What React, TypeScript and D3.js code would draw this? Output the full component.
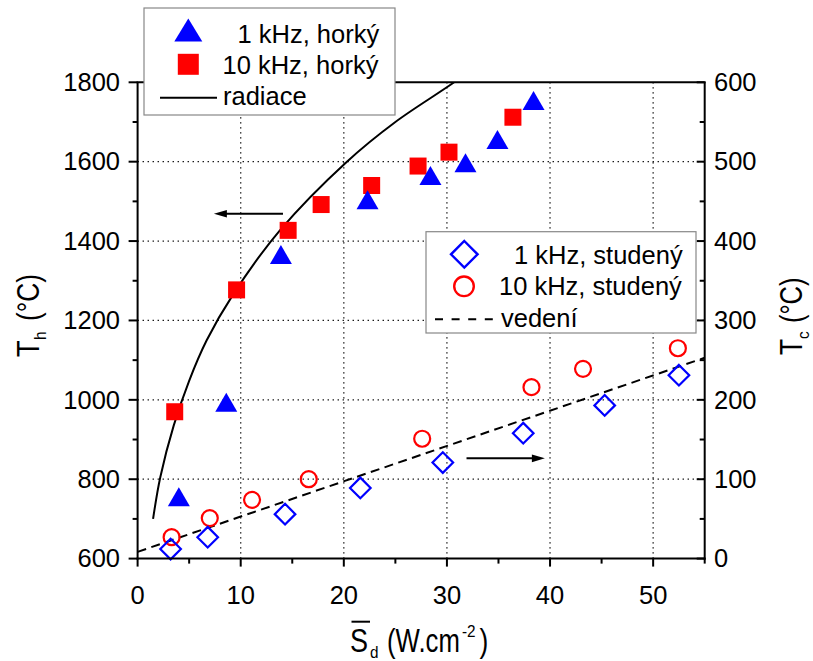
import React from "react";
import * as d3 from "d3";

// ---------- data ----------
const hot1kX = [4.0, 8.6, 13.9, 22.3, 28.4, 31.8, 34.9, 38.4];
const hot1kY = [756, 994, 1366, 1504, 1565, 1597, 1656, 1754];
const hot10kX = [3.6, 9.6, 14.6, 17.8, 22.7, 27.2, 30.2, 36.4];
const hot10kY = [970, 1277, 1427, 1492, 1540, 1589, 1624, 1712];
const cold1kX = [3.2, 6.8, 14.3, 21.6, 29.6, 37.4, 45.3, 52.5];
const cold1kY = [12, 27, 56, 89, 121, 158, 193, 231];
const cold10kX = [3.3, 7.0, 11.1, 16.6, 27.6, 38.2, 43.2, 52.4];
const cold10kY = [27, 51, 74, 100, 151, 216, 239, 265];
// radiation model curve
const radX = [1.5, 2.2, 3.5, 5, 6.7, 9.3, 13.8, 20.3, 25, 30.7, 33];
const radY = [700, 805, 935, 1048, 1150, 1267, 1427, 1600, 1700, 1800, 1845];
// conduction line (right axis)
const condX = [0, 55];
const condY = [8.5, 253];
// arrows
const arrowLeft = { x0: 14.1, x1: 7.4, y: 1469 };
const arrowRight = { x0: 31.9, x1: 39.5, y: 126.3 };

const xTicks = [0, 10, 20, 30, 40, 50];
const xMinor = [5, 15, 25, 35, 45, 55];
const yLTicks = [600, 800, 1000, 1200, 1400, 1600, 1800];
const yLMinor = [700, 900, 1100, 1300, 1500, 1700];
const yRTicks = [0, 100, 200, 300, 400, 500, 600];
const yRMinor = [50, 150, 250, 350, 450, 550];

const FONT = '"Liberation Sans", Arial, Helvetica, sans-serif';
const BLUE = "#0000ff";
const RED = "#ff0000";

const x = d3.scaleLinear().domain([0, 55]).range([137.6, 704.7]);
const yL = d3.scaleLinear().domain([600, 1800]).range([558.6, 82.3]);
const yR = d3.scaleLinear().domain([0, 600]).range([558.6, 82.3]);

const tri = (w: number, h: number) => `M0,${-h / 2}L${w / 2},${h / 2}L${-w / 2},${h / 2}Z`;
const dia = (r: number) => `M0,${-r}L${r},0L0,${r}L${-r},0Z`;

const Piece = ({ x, y, size, sx = 1, children, anchor = "start" }: any) => (
  <text
    transform={`translate(${x},${y}) scale(${sx},1)`}
    fontSize={size}
    fontFamily={FONT}
    textAnchor={anchor}
    fill="#000"
  >
    {children}
  </text>
);

const Arrow = ({ x0, x1, y }: any) => {
  const dir = x1 > x0 ? 1 : -1;
  const hl = 13;
  return (
    <g>
      <line x1={x0} x2={x1 - dir * hl + dir * 1} y1={y} y2={y} stroke="#000" strokeWidth={2} />
      <path d={`M${x1},${y}L${x1 - dir * hl},${y - 3.8}L${x1 - dir * hl},${y + 3.8}Z`} fill="#000" />
    </g>
  );
};

export default function App() {
  const [px0, px1] = x.range();
  const py0 = yL.range()[0];
  const py1 = yL.range()[1];

  const radPts = radX.map((v, i) => [x(v), yL(radY[i])] as [number, number]);
  const radPath = d3.line().curve(d3.curveCatmullRom.alpha(0.5))(radPts) || "";
  const condPath =
    d3.line()(condX.map((v, i) => [x(v), yR(condY[i])] as [number, number])) || "";

  return (
    <svg
      width={813}
      height={661}
      style={{ position: "absolute", left: 0, top: 0, background: "#fff" }}
      fontFamily={FONT}
    >
      <defs>
        <clipPath id="plotclip">
          <rect x={px0} y={py1} width={px1 - px0} height={py0 - py1} />
        </clipPath>
      </defs>
      <rect x={0} y={0} width={813} height={661} fill="#fff" />

      {/* grid */}
      <g stroke="#000" strokeWidth={1.3} strokeDasharray="1.3,3.7">
        {xTicks.filter((t) => t > 0).map((t) => (
          <line key={"gx" + t} x1={x(t)} x2={x(t)} y1={py0} y2={py1} />
        ))}
        {yLTicks.filter((t) => t > 600 && t < 1800).map((t) => (
          <line key={"gy" + t} x1={px0} x2={px1} y1={yL(t)} y2={yL(t)} />
        ))}
      </g>

      {/* curves */}
      <g clipPath="url(#plotclip)">
        <path d={radPath} fill="none" stroke="#000" strokeWidth={2} />
        <path d={condPath} fill="none" stroke="#000" strokeWidth={2} strokeDasharray="9,5.5" />
      </g>

      {/* markers */}
      {cold10kX.map((v, i) => (
        <circle key={"c10" + i} cx={x(v)} cy={yR(cold10kY[i])} r={8} fill="none" stroke={RED} strokeWidth={2.2} />
      ))}
      {cold1kX.map((v, i) => (
        <path key={"c1" + i} d={dia(10.3)} transform={`translate(${x(v)},${yR(cold1kY[i])})`} fill="none" stroke={BLUE} strokeWidth={2.2} />
      ))}
      {hot10kX.map((v, i) => (
        <rect key={"h10" + i} x={x(v) - 8.5} y={yL(hot10kY[i]) - 8.5} width={17} height={17} fill={RED} />
      ))}
      {hot1kX.map((v, i) => (
        <path key={"h1" + i} d={tri(22, 19)} transform={`translate(${x(v)},${yL(hot1kY[i])})`} fill={BLUE} />
      ))}

      {/* arrows */}
      <Arrow x0={x(arrowLeft.x0)} x1={x(arrowLeft.x1)} y={yL(arrowLeft.y)} />
      <Arrow x0={x(arrowRight.x0)} x1={x(arrowRight.x1)} y={yR(arrowRight.y)} />

      {/* axes frame */}
      <g stroke="#000" strokeWidth={2} fill="none">
        <line x1={px0} x2={px0} y1={py1} y2={py0 + 1} />
        <line x1={px1} x2={px1} y1={py1} y2={py0 + 1} />
        <line x1={px0 - 1} x2={px1 + 1} y1={py0} y2={py0} />
        <line x1={px0 - 1} x2={px1 + 1} y1={py1} y2={py1} />
        {xTicks.map((t) => (
          <line key={"xt" + t} x1={x(t)} x2={x(t)} y1={py0} y2={py0 + 8} />
        ))}
        {xMinor.map((t) => (
          <line key={"xm" + t} x1={x(t)} x2={x(t)} y1={py0} y2={py0 + 5} />
        ))}
        {yLTicks.map((t) => (
          <line key={"yt" + t} x1={px0 - 9} x2={px0} y1={yL(t)} y2={yL(t)} />
        ))}
        {yLMinor.map((t) => (
          <line key={"ym" + t} x1={px0 - 5} x2={px0} y1={yL(t)} y2={yL(t)} />
        ))}
        {yRTicks.map((t) => (
          <line key={"rt" + t} x1={px1 - 8} x2={px1} y1={yR(t)} y2={yR(t)} />
        ))}
        {yRMinor.map((t) => (
          <line key={"rm" + t} x1={px1 - 5} x2={px1} y1={yR(t)} y2={yR(t)} />
        ))}
      </g>

      {/* tick labels */}
      <g fontSize={25.5} fill="#000">
        {xTicks.map((t) => (
          <text key={"xl" + t} x={x(t)} y={603.5} textAnchor="middle">
            {t}
          </text>
        ))}
        {yLTicks.map((t) => (
          <text key={"yl" + t} x={120} y={yL(t) + 8.8} textAnchor="end">
            {t}
          </text>
        ))}
        {yRTicks.map((t) => (
          <text key={"rl" + t} x={714} y={yR(t) + 8.8} textAnchor="start">
            {t}
          </text>
        ))}
      </g>

      {/* axis titles */}
      <g transform="translate(39,357) rotate(-90)">
        <Piece x={0} y={0} size={32} sx={0.85}>T</Piece>
        <Piece x={17} y={7} size={17} sx={0.9}>h</Piece>
        <Piece x={36} y={0} size={32} sx={0.82}>(°C)</Piece>
      </g>
      <g transform="translate(802,355) rotate(-90)">
        <Piece x={0} y={0} size={31} sx={0.85}>T</Piece>
        <Piece x={16} y={7} size={17} sx={0.9}>c</Piece>
        <Piece x={32} y={0} size={31} sx={0.82}>(°C)</Piece>
      </g>
      <g>
        <Piece x={350} y={651.7} size={33} sx={0.82}>S</Piece>
        <line x1={351.5} x2={370} y1={621.7} y2={621.7} stroke="#000" strokeWidth={2} />
        <Piece x={370} y={658} size={17} sx={0.9}>d</Piece>
        <Piece x={387} y={651.7} size={33} sx={0.78}>(W.cm</Piece>
        <Piece x={462} y={637} size={17} sx={0.9}>-2</Piece>
        <Piece x={479.5} y={651.7} size={33} sx={0.8}>)</Piece>
      </g>

      {/* legend 1 */}
      <g>
        <rect x={144} y={8} width={251} height={107} fill="#fff" stroke="#888" strokeWidth={1.2} />
        <path d={tri(28, 23)} transform="translate(188.3,30)" fill={BLUE} />
        <rect x={188.3 - 10.5} y={64.3 - 10.5} width={21} height={21} fill={RED} />
        <line x1={160} x2={217} y1={97.7} y2={97.7} stroke="#000" strokeWidth={2} />
        <g fontSize={25.5} fill="#000">
          <text x={237.5} y={42.7}>1 kHz, horký</text>
          <text x={222.5} y={74}>10 kHz, horký</text>
          <text x={223} y={105}>radiace</text>
        </g>
      </g>

      {/* legend 2 */}
      <g>
        <rect x={426} y={231.7} width={270} height={101.3} fill="#fff" stroke="#888" strokeWidth={1.2} />
        <path d={dia(13.3)} transform="translate(464.3,254.3)" fill="none" stroke={BLUE} strokeWidth={2.4} />
        <circle cx={464} cy={286.3} r={9.8} fill="none" stroke={RED} strokeWidth={2.4} />
        <line x1={435} x2={495} y1={319.3} y2={319.3} stroke="#000" strokeWidth={2} strokeDasharray="8,8.6" />
        <g fontSize={25.5} fill="#000">
          <text x={514} y={263.5}>1 kHz, studený</text>
          <text x={499} y={295}>10 kHz, studený</text>
          <text x={501} y={326.5}>vedení</text>
        </g>
      </g>
    </svg>
  );
}
